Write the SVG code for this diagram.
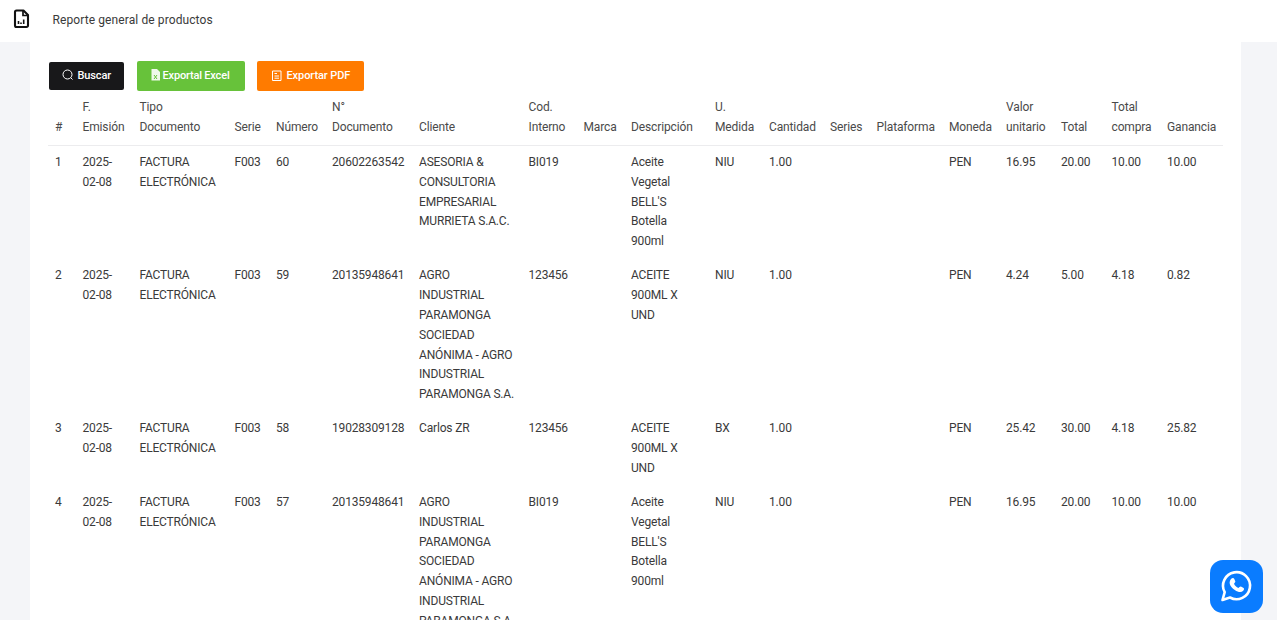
<svg xmlns="http://www.w3.org/2000/svg" width="1278" height="620" viewBox="0 0 1278 620">
<style>
text{font-family:Roboto,"Liberation Sans",sans-serif;font-size:12px;fill:#3a3a3a;letter-spacing:-.17px}
text.h{fill:#4a4a4a;letter-spacing:-.13px}
text.b{fill:#fff;font-size:11px;font-weight:500}
</style>
<rect width="1278" height="620" fill="#fff"/>
<rect x="0" y="42" width="30" height="578" fill="#f4f5f8"/>
<rect x="1241" y="42" width="36" height="578" fill="#f4f5f8"/>
<g id="header">
<path d="M16.500 10.500h7l4.500 4.500v10.500a1.500 1.500 0 0 1-1.500 1.500h-10a1.500 1.500 0 0 1-1.500-1.500v-13.500a1.500 1.500 0 0 1 1.500-1.500z" fill="none" stroke="#111" stroke-width="2.100" stroke-linejoin="round"/>
<path d="M23 10.500v5h5" fill="none" stroke="#111" stroke-width="1.700"/>
<path d="M18.500 21v3M21 22.500v1.500M23.700 19.500v4.500" stroke="#111" stroke-width="1.600" fill="none"/>
<text x="52.500" y="24" style="letter-spacing:.1px">Reporte general de productos</text>
</g>
<g id="btn-buscar">
<rect x="49" y="62" width="75" height="28" rx="2" fill="#18181a"/>
<circle cx="67.500" cy="74.500" r="4.500" fill="none" stroke="#fff" stroke-width="1"/><path d="M70.800 77.800l1.700 1.700" stroke="#fff"/>
<text class="b" x="77.500" y="79" style="letter-spacing:-.12px">Buscar</text>
</g>
<g id="btn-excel">
<rect x="137" y="61" width="108" height="30" rx="2" fill="#67c23a"/>
<path d="M151.500 69h5.500l3 3v8.500h-8.500z" fill="#fff" opacity=".9"/><path d="M154 75l3 4M157 75l-3 4" stroke="#67c23a" fill="none"/>
<text class="b" x="162.500" y="79" style="letter-spacing:-.18px">Exportal Excel</text>
</g>
<g id="btn-pdf">
<rect x="257" y="61" width="107" height="30" rx="2" fill="#ff7b00"/>
<path d="M272.500 71h8.500v9.500h-8.500zM274.500 73.500h2.500M274.500 76h4.500M274.500 78.200h4.500" fill="none" stroke="#fff"/>
<text class="b" x="286.500" y="79" style="letter-spacing:-.09px">Exportar PDF</text>
</g>
<g id="table-head">
<text class="h" x="55" y="131">#</text>
<text class="h" x="82.500" y="111">F.</text><text class="h" x="82.500" y="131">Emisión</text>
<text class="h" x="139.500" y="111">Tipo</text><text class="h" x="139.500" y="131">Documento</text>
<text class="h" x="234.500" y="131">Serie</text>
<text class="h" x="276" y="131">Número</text>
<text class="h" x="332" y="111">N°</text><text class="h" x="332" y="131">Documento</text>
<text class="h" x="419" y="131">Cliente</text>
<text class="h" x="528.500" y="111">Cod.</text><text class="h" x="528.500" y="131">Interno</text>
<text class="h" x="583.500" y="131">Marca</text>
<text class="h" x="631" y="131">Descripción</text>
<text class="h" x="715" y="111">U.</text><text class="h" x="715" y="131">Medida</text>
<text class="h" x="769" y="131">Cantidad</text>
<text class="h" x="830" y="131">Series</text>
<text class="h" x="876.500" y="131">Plataforma</text>
<text class="h" x="949" y="131">Moneda</text>
<text class="h" x="1006" y="111">Valor</text><text class="h" x="1006" y="131">unitario</text>
<text class="h" x="1061" y="131">Total</text>
<text class="h" x="1111.500" y="111">Total</text><text class="h" x="1111.500" y="131">compra</text>
<text class="h" x="1167" y="131">Ganancia</text>
<rect x="48" y="145" width="1175" height="1" fill="#ececee"/>
</g>
<g id="row-1">
<text x="55" y="166">1</text>
<text x="82.500" y="166">2025-</text><text x="82.500" y="186">02-08</text>
<text x="139.500" y="166">FACTURA</text><text x="139.500" y="186">ELECTRÓNICA</text>
<text x="234.500" y="166">F003</text><text x="276" y="166">60</text><text x="332" y="166">20602263542</text>
<text x="419" y="166">ASESORIA &amp;</text><text x="419" y="186">CONSULTORIA</text><text x="419" y="205.500">EMPRESARIAL</text><text x="419" y="225">MURRIETA S.A.C.</text>
<text x="528.500" y="166">BI019</text>
<text x="631" y="166">Aceite</text><text x="631" y="186">Vegetal</text><text x="631" y="205.500">BELL'S</text><text x="631" y="225">Botella</text><text x="631" y="245">900ml</text>
<text x="715" y="166">NIU</text><text x="769" y="166">1.00</text><text x="949" y="166">PEN</text>
<text x="1006" y="166">16.95</text><text x="1061" y="166">20.00</text><text x="1111.500" y="166">10.00</text><text x="1167" y="166">10.00</text>
</g>
<g id="row-2">
<text x="55" y="279">2</text>
<text x="82.500" y="279">2025-</text><text x="82.500" y="299">02-08</text>
<text x="139.500" y="279">FACTURA</text><text x="139.500" y="299">ELECTRÓNICA</text>
<text x="234.500" y="279">F003</text><text x="276" y="279">59</text><text x="332" y="279">20135948641</text>
<text x="419" y="279">AGRO</text><text x="419" y="299">INDUSTRIAL</text><text x="419" y="319">PARAMONGA</text><text x="419" y="339">SOCIEDAD</text><text x="419" y="358.500">ANÓNIMA - AGRO</text><text x="419" y="378">INDUSTRIAL</text><text x="419" y="398">PARAMONGA S.A.</text>
<text x="528.500" y="279">123456</text>
<text x="631" y="279">ACEITE</text><text x="631" y="299">900ML X</text><text x="631" y="319">UND</text>
<text x="715" y="279">NIU</text><text x="769" y="279">1.00</text><text x="949" y="279">PEN</text>
<text x="1006" y="279">4.24</text><text x="1061" y="279">5.00</text><text x="1111.500" y="279">4.18</text><text x="1167" y="279">0.82</text>
</g>
<g id="row-3">
<text x="55" y="432">3</text>
<text x="82.500" y="432">2025-</text><text x="82.500" y="452">02-08</text>
<text x="139.500" y="432">FACTURA</text><text x="139.500" y="452">ELECTRÓNICA</text>
<text x="234.500" y="432">F003</text><text x="276" y="432">58</text><text x="332" y="432">19028309128</text>
<text x="419" y="432">Carlos ZR</text>
<text x="528.500" y="432">123456</text>
<text x="631" y="432">ACEITE</text><text x="631" y="452">900ML X</text><text x="631" y="472">UND</text>
<text x="715" y="432">BX</text><text x="769" y="432">1.00</text><text x="949" y="432">PEN</text>
<text x="1006" y="432">25.42</text><text x="1061" y="432">30.00</text><text x="1111.500" y="432">4.18</text><text x="1167" y="432">25.82</text>
</g>
<g id="row-4">
<text x="55" y="506">4</text>
<text x="82.500" y="506">2025-</text><text x="82.500" y="526">02-08</text>
<text x="139.500" y="506">FACTURA</text><text x="139.500" y="526">ELECTRÓNICA</text>
<text x="234.500" y="506">F003</text><text x="276" y="506">57</text><text x="332" y="506">20135948641</text>
<text x="419" y="506">AGRO</text><text x="419" y="526">INDUSTRIAL</text><text x="419" y="546">PARAMONGA</text><text x="419" y="565">SOCIEDAD</text><text x="419" y="585">ANÓNIMA - AGRO</text><text x="419" y="605">INDUSTRIAL</text><text x="419" y="625">PARAMONGA S.A.</text>
<text x="528.500" y="506">BI019</text>
<text x="631" y="506">Aceite</text><text x="631" y="526">Vegetal</text><text x="631" y="546">BELL'S</text><text x="631" y="565">Botella</text><text x="631" y="585">900ml</text>
<text x="715" y="506">NIU</text><text x="769" y="506">1.00</text><text x="949" y="506">PEN</text>
<text x="1006" y="506">16.95</text><text x="1061" y="506">20.00</text><text x="1111.500" y="506">10.00</text><text x="1167" y="506">10.00</text>
</g>
<g id="whatsapp">
<rect x="1210" y="560" width="53" height="53" rx="13" fill="#0a7cff"/>
<path d="M1222.500 600l2.200-7.800a13.500 13.500 0 1 1 5.300 5.300z" fill="none" stroke="#fff" stroke-width="2.600" stroke-linejoin="round"/>
<path d="M1231 579c1.500-1.500 2.800-1.200 3.300 0l1 2.200c.3.800-.9 1.800-1.300 2.500 1 2 2.400 3.300 4.400 4.300.8-.5 1.700-1.700 2.500-1.400l2.300 1.100c1.100.5 1.200 1.800 0 3-2 2-5 1.500-8.400-.8-2.500-1.700-4.300-3.700-5-6-.5-1.900.3-3.600 1.200-4.900z" fill="#fff"/>
</g>
</svg>
